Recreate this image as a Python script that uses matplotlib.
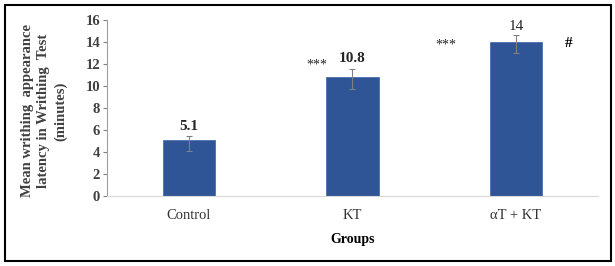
import matplotlib
matplotlib.use("Agg")
from matplotlib import pyplot as plt
from matplotlib.patches import Rectangle

# data
groups = ["Control", "KT", "αT + KT"]
means = [5.1, 10.8, 14]
err_low = [1.0, 1.1, 1.0]
err_high = [0.35, 0.7, 0.6]
value_labels = ["5.1", "10.8", "14"]
stars = ["", "***", "***"]
yticks = [0, 2, 4, 6, 8, 10, 12, 14, 16]

plt.rcParams['font.family'] = ['Liberation Serif', 'DejaVu Serif']

fig = plt.figure(figsize=(6.15, 2.66), dpi=100)
ax = fig.add_axes([0.174, 0.263, 0.798, 0.662])

x = range(len(groups))
ax.bar(x, means, width=0.32, color="#2F5597", edgecolor="#4a70b0", linewidth=0.6,
       yerr=[err_low, err_high], error_kw=dict(ecolor="#808080", elinewidth=0.8, capsize=2.5, capthick=0.8))

ax.set_xlim(-0.5, 2.5)
ax.set_ylim(0, 16)
ax.set_yticks(yticks)
ax.set_xticks(list(x))
ax.set_xticklabels(groups, fontsize=10.5, color="#333333")
ax.tick_params(axis="x", length=0, pad=9)
ax.tick_params(axis="y", labelsize=10.5, length=3, color="#808080", labelcolor="#404040", pad=2)
for lbl in ax.get_yticklabels():
    lbl.set_fontweight("bold")

ax.spines["top"].set_visible(False)
ax.spines["right"].set_visible(False)
ax.spines["left"].set_color("#a0a0a0")
ax.spines["bottom"].set_color("#d9d9d9")

# value labels
for i, (m, h, t) in enumerate(zip(means, err_high, value_labels)):
    w = "normal" if i == 2 else "bold"
    ax.text(i, m + h + 0.45 if i == 1 else m + h + 0.25, t, ha="center", va="bottom",
            fontsize=11, fontweight=w, color="#262626")

# significance marks
ax.text(0.78, 11.9, stars[1], ha="center", va="center", fontsize=10, color="#262626")
ax.text(1.57, 13.7, stars[2], ha="center", va="center", fontsize=10, color="#262626")
ax.text(2.32, 13.85, "#", ha="center", va="center", fontsize=11, fontweight="bold", color="black")

ax.set_xlabel("Groups", fontsize=10, fontweight="bold", labelpad=8)
fig.text(0.072, 0.583, "Mean writhing  appearance\nlatency in Writhing  Test\n(minutes)",
         rotation=90, ha="center", va="center", fontsize=10.5, fontweight="bold",
         color="#404040", linespacing=1.3)

fig.patches.append(Rectangle((0.008, 0.02), 0.985, 0.96, transform=fig.transFigure,
                             fill=False, edgecolor="black", linewidth=1.5))

fig.savefig("out.png", dpi=100)
